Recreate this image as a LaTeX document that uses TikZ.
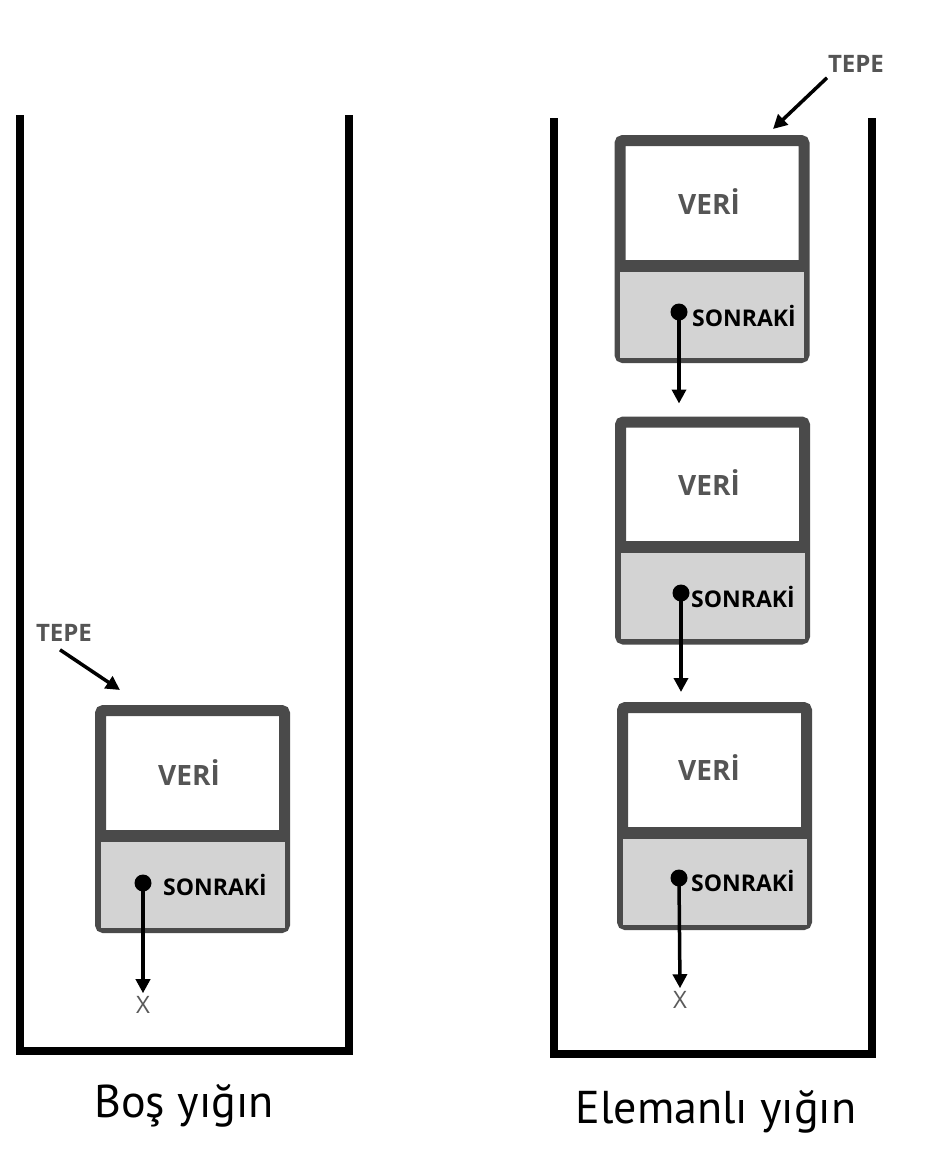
\documentclass[tikz,border=0pt]{standalone}
\usepackage{fontspec}
\setmainfont{Open Sans}
\newfontfamily\capfont{PT Sans}
\usetikzlibrary{arrows.meta,calc}
\definecolor{framegray}{HTML}{4A4A4A}
\definecolor{cellgray}{HTML}{D3D3D3}
\definecolor{textgray}{HTML}{555555}
\definecolor{xgray}{HTML}{5A5A5A}
\tikzset{
  wall/.style={line width=8pt, black, line join=miter},
  frame/.style={draw=framegray, line width=11pt, rounded corners=3pt, fill=white,
    minimum width=184pt, minimum height=217pt, inner sep=0pt},
  divider/.style={draw=framegray, line width=12pt},
  veri/.style={font=\fontsize{28}{32}\selectfont\bfseries, text=textgray, inner sep=0pt, anchor=base},
  sonraki/.style={font=\fontsize{23}{26}\selectfont\bfseries, text=black, inner sep=0pt, anchor=base west},
  tepe/.style={font=\fontsize{24}{28}\selectfont\bfseries, text=textgray, inner sep=0pt},
  xlabel/.style={font=\fontsize{24}{26}\selectfont, text=xgray, inner sep=0pt},
  dotnode/.style={circle, fill=black, minimum size=17pt, inner sep=0pt},
  ptr/.style={line width=3.5pt, black, -{Triangle[width=14pt,length=14pt]}},
  caption/.style={font=\capfont\fontsize{46}{50}\selectfont, text=black, inner sep=0pt, anchor=base}
}
\begin{document}
\begin{tikzpicture}[x=1pt,y=-1pt]
\useasboundingbox[fill=white] (0,0) rectangle (928,1152);
% containers
\draw[wall] (20,115) -- (20,1051) -- (349,1051) -- (349,115);
\draw[wall] (554,118) -- (554,1054) -- (872,1054) -- (872,118);

% ---------- left (single box) ----------
\node[frame] (b0) at (192.5,819) {};
\fill[cellgray] ($(b0.north west)+(5.5,136.5)$) rectangle ($(b0.south east)+(-5.5,-5.5)$);
\draw[divider] ($(b0.north west)+(5.5,130.5)$) -- ($(b0.north east)+(-5.5,130.5)$);
\node[veri] (v0) at (189,785) {VERİ};
\node[sonraki] (s0) at (163,895) {SONRAKİ};
\node[dotnode] (d0) at (143,883) {};
\node[xlabel] (x0) at (143,1005) {X};
\draw[ptr] (d0.center) -- ([yshift=3pt]x0.north);
\node[tepe] (t0) at (64,633) {TEPE};
\coordinate (t0tip) at (120,690);
\draw[ptr] ($(t0.south)+(-4,8)$) -- (t0tip);

% ---------- right (three boxes) ----------
\node[frame] (b1) at (712,249) {};
\node[frame] (b2) at (712.5,530.5) {};
\node[frame] (b3) at (714.5,816) {};
\foreach \b in {b1,b2,b3}{
  \fill[cellgray] ($(\b.north west)+(5.5,136.5)$) rectangle ($(\b.south east)+(-5.5,-5.5)$);
  \draw[divider] ($(\b.north west)+(5.5,130.5)$) -- ($(\b.north east)+(-5.5,130.5)$);
}
\node[veri] (v1) at (709,214) {VERİ};
\node[veri] (v2) at (709,495) {VERİ};
\node[veri] (v3) at (709,780) {VERİ};
\node[sonraki] (s1) at (692,326) {SONRAKİ};
\node[sonraki] (s2) at (691,607) {SONRAKİ};
\node[sonraki] (s3) at (691,891) {SONRAKİ};
\node[dotnode] (d1) at (679,312) {};
\node[dotnode] (d2) at (681,593) {};
\node[dotnode] (d3) at (679,878) {};
\draw[ptr, shorten >=13pt] (d1.center) -- (d1.center |- b2.north);
\draw[ptr, shorten >=10pt] (d2.center) -- (d2.center |- b3.north);
\node[xlabel] (x3) at (680,1000) {X};
\draw[ptr] (d3.center) -- ([yshift=3pt]x3.north);
\node[tepe] (t1) at (856,64) {TEPE};
\coordinate (t1tip) at (773,129);
\draw[ptr] ($(t1.south)+(-29,5)$) -- (t1tip);

% captions
\node[caption] (c0) at (184,1117) {Boş yığın};
\node[caption] (c1) at (716,1123) {Elemanlı yığın};
\end{tikzpicture}
\end{document}
